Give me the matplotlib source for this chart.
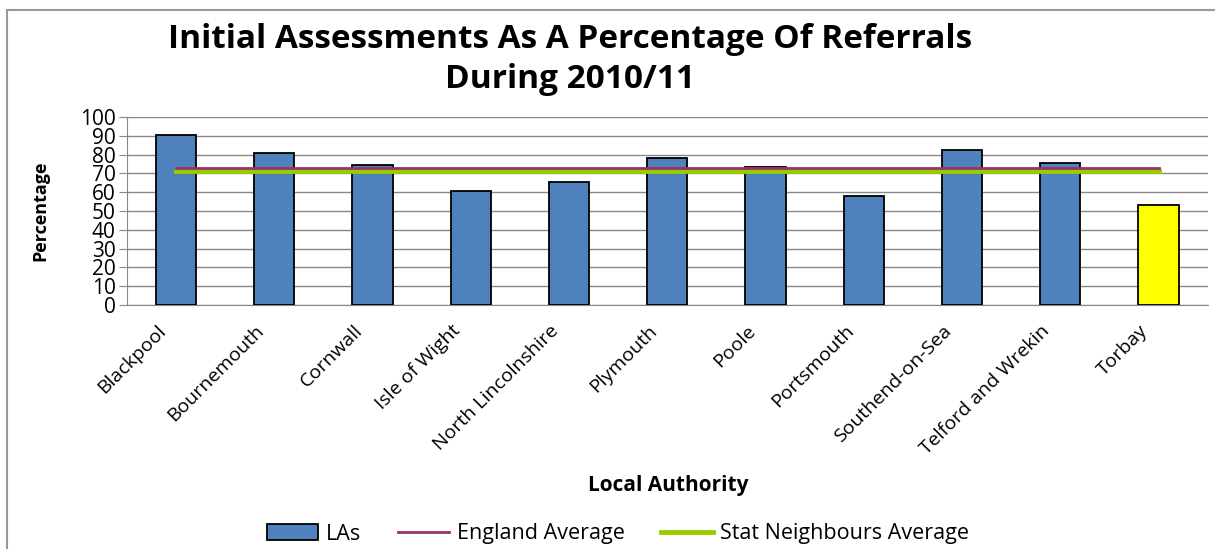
import matplotlib.pyplot as plt
from matplotlib.patches import Rectangle
from matplotlib.transforms import ScaledTranslation

# Data
authorities = ['Blackpool', 'Bournemouth', 'Cornwall', 'Isle of Wight', 'North Lincolnshire',
               'Plymouth', 'Poole', 'Portsmouth', 'Southend-on-Sea', 'Telford and Wrekin', 'Torbay']
las = [90.4, 80.8, 74.4, 60.4, 65.4, 78.2, 73.2, 57.7, 82.4, 75.7, 53.3]
england_avg = [72.6] * len(authorities)
stat_avg = [71.5] * len(authorities)
highlight = 'Torbay'

plt.rcParams['font.family'] = ['Open Sans', 'DejaVu Sans']

fig = plt.figure(figsize=(12.15, 5.49), dpi=100)
ax = fig.add_axes([0.1045, 0.4444, 0.8895, 0.3426])

x = list(range(len(authorities)))
colors = ['#FFFF00' if a == highlight else '#4F81BD' for a in authorities]
ax.bar(x, las, width=0.41, color=colors, edgecolor='black', linewidth=1.3,
       label='LAs', zorder=3)
ax.plot(x, stat_avg, color='#99CC00', linewidth=3.5, label='Stat Neighbours Average', zorder=4)
ax.plot(x, england_avg, color='#993366', linewidth=2, label='England Average', zorder=5)

ax.set_ylim(0, 100)
ax.set_xlim(-0.5, len(authorities) - 0.5)
ax.set_yticks(range(0, 101, 10))
ax.tick_params(axis='y', labelsize=15, length=6, color='#888888', pad=2)
ax.tick_params(axis='x', length=0, pad=12)
ax.set_xticks(x)
ax.set_xticklabels(authorities, rotation=45, ha='right', rotation_mode='anchor', fontsize=14)
shift = ScaledTranslation(-14 / 72, 0, fig.dpi_scale_trans)
for lbl in ax.get_xticklabels():
    lbl.set_transform(lbl.get_transform() + shift)
ax.grid(axis='y', color='#888888', linewidth=1, zorder=0)
for s in ['top', 'right']:
    ax.spines[s].set_visible(False)
ax.spines['left'].set_color('#888888')
ax.spines['bottom'].set_color('#888888')
ax.spines['bottom'].set_zorder(2)

ax.set_ylabel('Percentage', fontsize=13, fontweight='bold', labelpad=22)
fig.text(0.55, 1 - 485 / 549, 'Local Authority', fontsize=15, fontweight='bold',
         ha='center', va='center')
fig.text(0.469, 1 - 40 / 549, 'Initial Assessments As A Percentage Of Referrals',
         fontsize=24, fontweight='bold', ha='center', va='center')
fig.text(0.469, 1 - 80 / 549, 'During 2010/11',
         fontsize=24, fontweight='bold', ha='center', va='center')

handles, labels = ax.get_legend_handles_labels()
order = [labels.index('LAs'), labels.index('England Average'), labels.index('Stat Neighbours Average')]
fig.legend([handles[i] for i in order], [labels[i] for i in order], loc='center',
           bbox_to_anchor=(618 / 1215, 1 - 534 / 549), ncol=3, frameon=False, fontsize=15.5,
           handlelength=2.4, columnspacing=1.7, handletextpad=0.35)

# outer chart frame
fig.patches.append(Rectangle((7 / 1215, -0.01), 1.0, 1 - 10 / 549 + 0.01, transform=fig.transFigure,
                             fill=False, edgecolor='#999999', linewidth=1.5))

plt.savefig('out.png', dpi=100)
plt.close()
